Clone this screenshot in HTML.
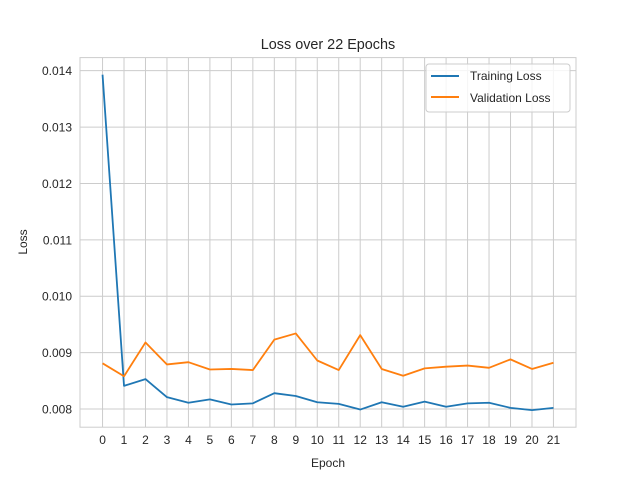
<!DOCTYPE html>
<html><head><meta charset="utf-8"><style>
body{margin:0;background:#fff}
svg text{font-family:"Liberation Sans",sans-serif;fill:#262626}
</style></head><body>
<svg id="chart" width="640" height="480" xmlns="http://www.w3.org/2000/svg">
<rect width="640" height="480" fill="#fff"/>
<g id="grid"></g>
<rect x="80" y="57.6" width="496" height="369.6" fill="none" stroke="#cccccc" stroke-width="1"/>
<g id="ticks"></g>
<g id="series"></g>
<text x="328" y="49" text-anchor="middle" font-size="14.4">Loss over 22 Epochs</text>
<text x="328" y="467" text-anchor="middle" font-size="12">Epoch</text>
<text transform="translate(27,242) rotate(-90)" text-anchor="middle" font-size="12">Loss</text>
<g>
<rect x="426" y="64" width="144" height="48" rx="3" fill="#fff" fill-opacity="0.8" stroke="#cccccc"/>
<g><line x1="431" y1="76" x2="459" y2="76" stroke="#1f77b4" stroke-width="2"/><text x="470" y="80" font-size="12">Training Loss</text></g>
<g><line x1="431" y1="97" x2="459" y2="97" stroke="#ff7f0e" stroke-width="2"/><text x="470" y="102" font-size="12">Validation Loss</text></g>
</g>
</svg>
<script>
const epochs=[0,1,2,3,4,5,6,7,8,9,10,11,12,13,14,15,16,17,18,19,20,21];
const trainLoss=[0.01393,0.00841,0.00853,0.00821,0.00811,0.00817,0.00808,0.0081,0.00828,0.00823,0.00812,0.00809,0.00799,0.00812,0.00804,0.00813,0.00804,0.0081,0.00811,0.00802,0.00798,0.00802];
const valLoss=[0.00881,0.00858,0.00918,0.00879,0.00883,0.0087,0.00871,0.00869,0.00923,0.00934,0.00886,0.00869,0.00931,0.00871,0.00859,0.00872,0.00875,0.00877,0.00873,0.00888,0.00871,0.00882];
const yTicks=[0.008,0.009,0.010,0.011,0.012,0.013,0.014];
const yTickLabels=["0.008","0.009","0.010","0.011","0.012","0.013","0.014"];
const NS="http://www.w3.org/2000/svg";
const L=80,R=576,T=57.6,B=427.2;
const xmin=-1.05,xmax=22.05;
const ymin=0.007677,ymax=0.014232;
function xs(v){return L+(v-xmin)/(xmax-xmin)*(R-L);}
function ys(v){return B-(v-ymin)/(ymax-ymin)*(B-T);}
function mk(tag,attrs,parent){const e=document.createElementNS(NS,tag);for(const k in attrs)e.setAttribute(k,attrs[k]);parent.appendChild(e);return e;}
const grid=document.getElementById('grid'),ticks=document.getElementById('ticks'),series=document.getElementById('series');
epochs.forEach(e=>{
  const x=xs(e);
  const g=mk('line',{x1:x,x2:x,y1:T,y2:B,stroke:'#cccccc','stroke-width':1},grid);
  
  
  const t=mk('text',{x:x,y:B+17,'text-anchor':'middle','font-size':12},ticks);
  t.textContent=String(e);
  
  
});
yTicks.forEach((v,i)=>{
  const y=ys(v);
  const g=mk('line',{x1:L,x2:R,y1:y,y2:y,stroke:'#cccccc','stroke-width':1},grid);
  
  
  const t=mk('text',{x:L-8,y:y+4.5,'text-anchor':'end','font-size':12},ticks);
  t.textContent=yTickLabels[i];
  
  
});
function line(vals,color,name){
  const p=mk('polyline',{points:vals.map((v,i)=>xs(epochs[i])+','+ys(v)).join(' '),fill:'none',stroke:color,'stroke-width':1.8,'stroke-linejoin':'round'},series);
  
  
}
line(trainLoss,'#1f77b4','training-loss-line');
line(valLoss,'#ff7f0e','validation-loss-line');
</script>
</body></html>
